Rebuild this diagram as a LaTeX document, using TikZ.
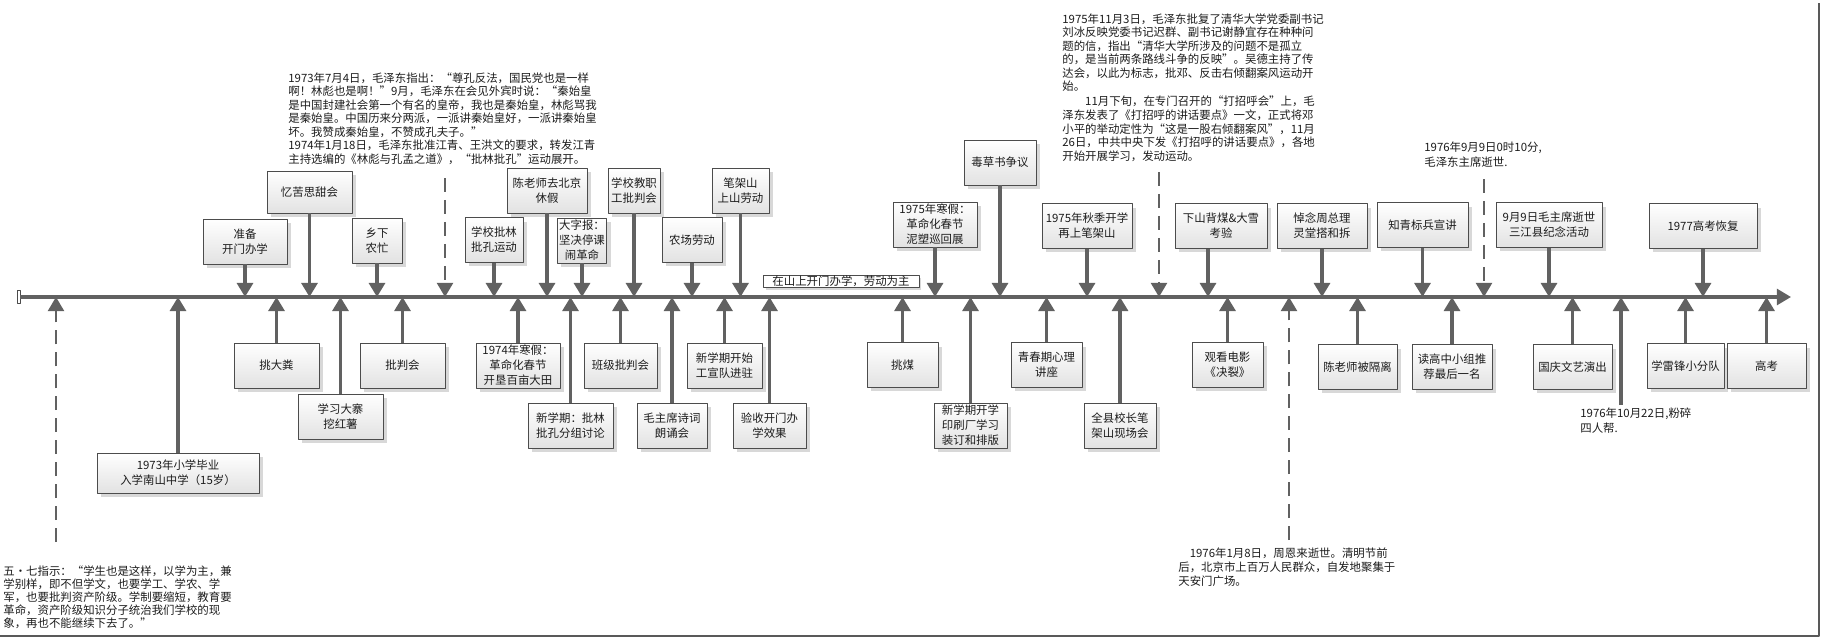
\documentclass[tikz,border=0pt]{standalone}
\usepackage{fontspec}
\setmainfont{Noto Sans CJK SC}
\usetikzlibrary{arrows.meta,shadows}

\definecolor{tlgray}{HTML}{616161}
\definecolor{boxline}{HTML}{4C4C4C}
\definecolor{boxfill}{HTML}{E2E2E2}
\definecolor{shadowc}{HTML}{D8D8D8}
\definecolor{txtc}{HTML}{1C1C1C}

\tikzset{
  evbox/.style={draw=boxline, line width=0.5pt, top color=white, bottom color=boxfill,
    drop shadow={shadow xshift=0.08cm, shadow yshift=-0.08cm, fill=shadowc, opacity=1},
    align=center, text=txtc, minimum width=#1*0.02cm, minimum height=0.9cm,
    inner xsep=1pt, inner ysep=0.5pt, font=\fontsize{6.5pt}{8.5pt}\selectfont},
  tagbox/.style={draw=boxline, line width=0.4pt, fill=white,
    drop shadow={shadow xshift=0.05cm, shadow yshift=-0.05cm, fill=shadowc, opacity=1},
    text=txtc, minimum width=3.12cm, minimum height=0.24cm, inner sep=0.3pt,
    font=\fontsize{6.5pt}{6.5pt}\selectfont},
  evarr/.style={draw=tlgray, line width=2pt, ->},
  dasharr/.style={evarr, line width=1.6pt, dash pattern=on 8pt off 4.5pt},
  note/.style={anchor=north west, align=left, inner sep=0pt, text=txtc,
    font=\fontsize{6.5pt}{7.7pt}\selectfont},
}

\begin{document}
\begin{tikzpicture}[x=0.02cm, y=-0.02cm, line join=round, >={Triangle[width=9pt,length=8pt]}]
\useasboundingbox (0,0) rectangle (1823,639);
\draw[black!65, line width=1.4pt] (0,636) -- (1819,636) -- (1819,3);

% time axis
\node[draw=boxline, line width=0.4pt, fill=white, inner sep=0pt, minimum width=0.06cm, minimum height=0.26cm] (st) at (18.5,297) {};
\coordinate (ax1) at (1791,297);
\draw[draw=tlgray, line width=1.8pt, ->] (st.east) -- (ax1);
\node[tagbox] (lb) at (841,281) {在山上开门办学，劳动为主};

% events above the axis
\node[evbox=84] (a1) at (245,241.5) {准备\\开门办学};
\node[evbox=85, minimum height=0.84cm] (a2) at (309.5,192) {忆苦思甜会};
\node[evbox=50] (a3) at (377,240.5) {乡下\\农忙};
\node[evbox=58] (a4) at (494,240) {学校批林\\批孔运动};
\node[evbox=80] (a5) at (547,190.5) {陈老师去北京\\休假};
\node[evbox=48] (a6) at (582,240.5) {大字报：\\坚决停课\\闹革命};
\node[evbox=52] (a7) at (634,190.5) {学校教职\\工批判会};
\node[evbox=60] (a8) at (692,240) {农场劳动};
\node[evbox=57] (a9) at (740.5,190.5) {笔架山\\上山劳动};
\node[evbox=84] (a10) at (935,224.5) {1975年寒假：\\革命化春节\\泥塑巡回展};
\node[evbox=72] (a11) at (1000,162.5) {毒草书争议};
\node[evbox=90] (a12) at (1087,226) {1975年秋季开学\\再上笔架山};
\node[evbox=92] (a13) at (1221,226) {下山背煤\&大雪\\考验};
\node[evbox=90] (a14) at (1322,226) {悼念周总理\\灵堂搭和拆};
\node[evbox=91] (a15) at (1422.5,225) {知青标兵宣讲};
\node[evbox=106] (a16) at (1549,225) {9月9日毛主席逝世\\三江县纪念活动};
\node[evbox=108] (a17) at (1703,226) {1977高考恢复};

% events below the axis
\node[evbox=162, minimum height=0.8cm] (b1) at (178,473) {1973年小学毕业\\入学南山中学（15岁）};
\node[evbox=85] (b2) at (276.5,365.5) {挑大粪};
\node[evbox=85] (b3) at (340.5,416.5) {学习大寨\\挖红薯};
\node[evbox=85] (b4) at (402.5,365.5) {批判会};
\node[evbox=84] (b5) at (518,365.5) {1974年寒假：\\革命化春节\\开垦百亩大田};
\node[evbox=85] (b6) at (570.5,425.5) {新学期：批林\\批孔分组讨论};
\node[evbox=73] (b7) at (620.5,365.5) {班级批判会};
\node[evbox=70] (b8) at (672,425.5) {毛主席诗词\\朗诵会};
\node[evbox=75] (b9) at (724.5,365.5) {新学期开始\\工宣队进驻};
\node[evbox=73] (b10) at (769.5,425.5) {验收开门办\\学效果};
\node[evbox=71] (b11) at (902.5,365) {挑煤};
\node[evbox=73] (b12) at (970.5,425.5) {新学期开学\\印刷厂学习\\装订和排版};
\node[evbox=71] (b13) at (1046.5,365) {青春期心理\\讲座};
\node[evbox=72] (b14) at (1120,425.5) {全县校长笔\\架山现场会};
\node[evbox=71] (b15) at (1227.5,364.5) {观看电影\\《决裂》};
\node[evbox=79] (b16) at (1357.5,367) {陈老师被隔离};
\node[evbox=80] (b17) at (1452,367) {读高中小组推\\荐最后一名};
\node[evbox=79] (b18) at (1572.5,367) {国庆文艺演出};
\node[evbox=77] (b19) at (1685.5,366) {学雷锋小分队};
\node[evbox=79] (b20) at (1766.5,366) {高考};

% connectors to the axis
\foreach \n in {a1,a2,a3,a4,a5,a6,a7,a8,a9,a10,a11,a12,a14,a15,a16,a17}
  \draw[evarr] (\n.south) -- (\n.south |- ax1);
\coordinate (a13s) at ([xshift=-0.26cm]a13.south);
\draw[evarr] (a13s) -- (a13s |- ax1);
\foreach \n in {b1,b2,b3,b4,b5,b6,b7,b8,b9,b10,b11,b12,b13,b14,b15,b16,b17,b18,b19,b20}
  \draw[evarr] (\n.north) -- (\n.north |- ax1);

% notes
\node[note, font=\fontsize{6.5pt}{7.5pt}\selectfont] (t1) at (3,565) {五・七指示：“学生也是这样，以学为主，兼\\学别样，即不但学文，也要学工、学农、学\\军，也要批判资产阶级。学制要缩短，教育要\\革命，资产阶级知识分子统治我们学校的现\\象，再也不能继续下去了。”};
\node[note] (t2) at (288,72) {1973年7月4日，毛泽东指出：“尊孔反法，国民党也是一样\\啊！林彪也是啊！”9月，毛泽东在会见外宾时说：“秦始皇\\是中国封建社会第一个有名的皇帝，我也是秦始皇，林彪骂我\\是秦始皇。中国历来分两派，一派讲秦始皇好，一派讲秦始皇\\坏。我赞成秦始皇，不赞成孔夫子。”\\1974年1月18日，毛泽东批准江青、王洪文的要求，转发江青\\主持选编的《林彪与孔孟之道》，“批林批孔”运动展开。};
\node[note] (t3) at (1062,13) {1975年11月3日，毛泽东批复了清华大学党委副书记\\刘冰反映党委书记迟群、副书记谢静宜存在种种问\\题的信，指出“清华大学所涉及的问题不是孤立\\的，是当前两条路线斗争的反映”。吴德主持了传\\达会，以此为标志，批邓、反击右倾翻案风运动开\\始。\\[1pt]\hspace*{2em}11月下旬，在专门召开的“打招呼会”上，毛\\泽东发表了《打招呼的讲话要点》一文，正式将邓\\小平的举动定性为“这是一股右倾翻案风”，11月\\26日，中共中央下发《打招呼的讲话要点》，各地\\开始开展学习，发动运动。};
\node[note, font=\fontsize{6.5pt}{8pt}\selectfont] (t4) at (1178,547) {\hspace*{1em}1976年1月8日，周恩来逝世。清明节前\\后，北京市上百万人民群众，自发地聚集于\\天安门广场。};
\node[note, font=\fontsize{6.5pt}{8.5pt}\selectfont] (t5) at (1424,142) {1976年9月9日0时10分,\\毛泽东主席逝世.};
\node[note, font=\fontsize{6.5pt}{8.5pt}\selectfont] (t6) at (1580,408) {1976年10月22日,粉碎\\四人帮.};

% dated links
\coordinate (d1) at (56,542);
\coordinate (d2) at (445,178);
\coordinate (d3) at (1159,172);
\coordinate (d4) at (1289,540);
\coordinate (d5) at (1484,179);
\coordinate (s1) at (1621,405);
\foreach \nd in {d1,d2,d3,d4,d5}
  \draw[dasharr] (\nd) -- (\nd |- ax1);
\draw[evarr] (s1) -- (s1 |- ax1);
\end{tikzpicture}
\end{document}
